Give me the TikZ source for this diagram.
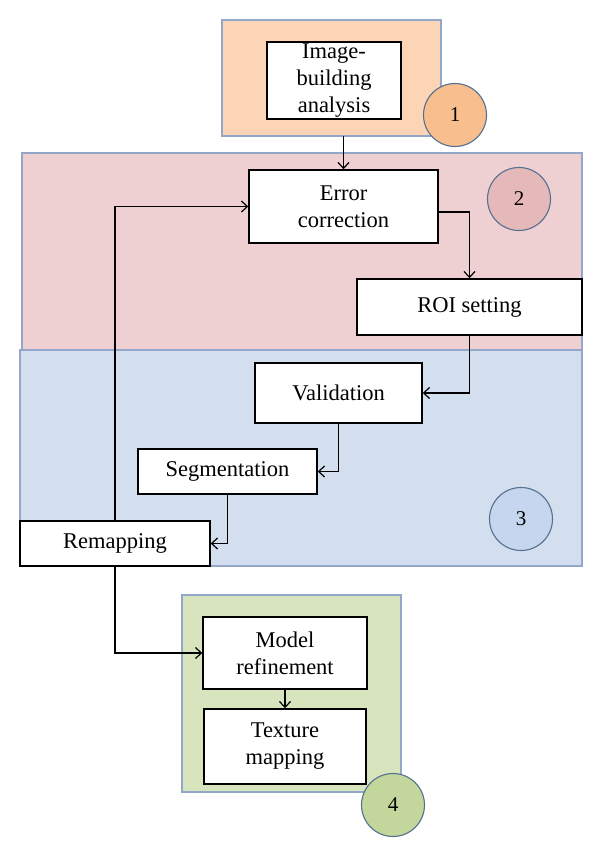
\documentclass[tikz,border=0pt]{standalone}
\usepackage{fontspec}
\setmainfont{Liberation Serif}
\usetikzlibrary{arrows.meta}
\definecolor{pOne}{HTML}{FBD5B6}
\definecolor{cOne}{HTML}{F9BE8E}
\definecolor{pTwo}{HTML}{EFD0D2}
\definecolor{cTwo}{HTML}{E5B8B9}
\definecolor{pThree}{HTML}{D3DEEF}
\definecolor{cThree}{HTML}{C5D6EE}
\definecolor{pFour}{HTML}{D8E4BD}
\definecolor{cFour}{HTML}{C3D69B}
\definecolor{pBorder}{HTML}{93A8C8}
\definecolor{cBorder}{HTML}{56708F}
\begin{document}
\begin{tikzpicture}[x=1pt,y=-1pt,
  panel/.style={draw=pBorder,line width=1.2pt,inner sep=0pt},
  numcirc/.style={circle,draw=cBorder,line width=1.1pt,minimum size=63pt,inner sep=0pt,font=\fontsize{21}{25}\selectfont},
  stepbox/.style={draw=black,fill=white,line width=1.4pt,inner sep=0pt,align=center,font=\fontsize{22.5}{27}\selectfont},
  arr/.style={draw=black,line width=1.2pt,-{Straight Barb[length=6pt,width=11pt]}}]
\useasboundingbox (0,0) rectangle (600,858);
\fill[white] (0,0) rectangle (600,858);
% panels
\draw[panel,fill=pOne] (222,20) rectangle (441,136);
\coordinate (p1s) at (343.5,136);
\draw[panel,fill=pTwo] (22,153) rectangle (582,350);
\draw[panel,fill=pThree] (20,350) rectangle (582,566);
\draw[panel,fill=pFour] (182,595) rectangle (401,792);
% number circles
\node[numcirc,fill=cOne] (c1) at (455,115) {1};
\node[numcirc,fill=cTwo] (c2) at (519,199) {2};
\node[numcirc,fill=cThree] (c3) at (521,519) {3};
\node[numcirc,fill=cFour] (c4) at (393,805) {4};
% boxes
\node[stepbox,minimum width=134pt,minimum height=77pt] (ib) at (334,80.5) {Image-\\building\\analysis};
\node[stepbox,minimum width=189pt,minimum height=73pt] (ec) at (343.5,206.5) {Error\\correction};
\node[stepbox,minimum width=225pt,minimum height=56pt] (roi) at (469.5,307) {ROI setting};
\node[stepbox,minimum width=167pt,minimum height=60pt] (val) at (338.5,393) {Validation};
\node[stepbox,minimum width=179pt,minimum height=45pt] (seg) at (227.5,471.5) {Segmentation};
\node[stepbox,minimum width=190pt,minimum height=45pt] (rem) at (115,543.5) {Remapping};
\node[stepbox,minimum width=164pt,minimum height=72pt] (mr) at (285,653) {Model\\refinement};
\node[stepbox,minimum width=162pt,minimum height=75pt] (tm) at (285,746.5) {Texture\\mapping};
% connectors
\draw[arr] (p1s) -- (ec.north);
\coordinate (ecout) at (438,212);
\draw[arr] (ecout) -| (roi.north);
\draw[arr] (roi.south) |- (val.east);
\draw[arr] (val.south) |- (seg.east);
\draw[arr] (seg.south) |- (rem.east);
\draw[arr] (rem.north) |- (ec.west);
\draw[arr] (rem.south) |- (mr.west);
\draw[arr] (mr.south) -- (tm.north);
\end{tikzpicture}
\end{document}
